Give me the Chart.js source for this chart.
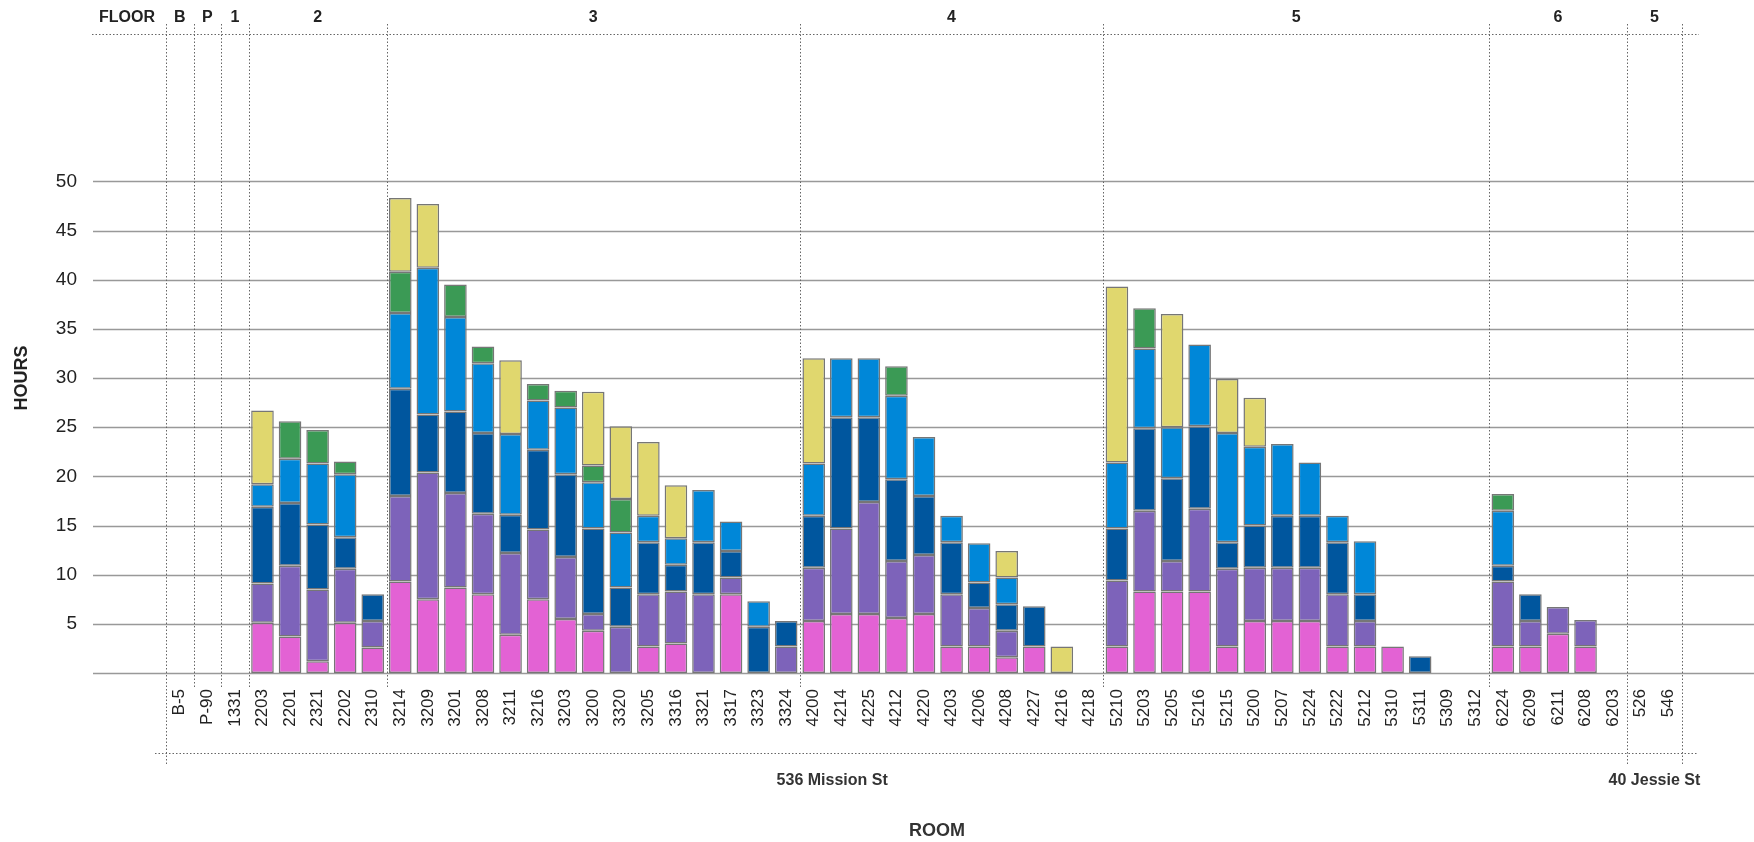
<!DOCTYPE html>
<html>
<head>
<meta charset="utf-8">
<title>Hours by room</title>
<script src="https://cdn.jsdelivr.net/npm/chart.js@4/dist/chart.umd.min.js"></script>
<style>
  html, body { margin: 0; padding: 0; background: #fff; }
  canvas { display: block; }
</style>
</head>
<body>
<canvas id="chart" width="1754" height="842"></canvas>
<script>
'use strict';

// rooms along the x axis, with the floor and building each one belongs to
const rooms = ['B-5', 'P-90', '1331',
  '2203', '2201', '2321', '2202', '2310',
  '3214', '3209', '3201', '3208', '3211', '3216', '3203', '3200', '3320', '3205', '3316', '3321', '3317', '3323', '3324',
  '4200', '4214', '4225', '4212', '4220', '4203', '4206', '4208', '4227', '4216', '4218',
  '5210', '5203', '5205', '5216', '5215', '5200', '5207', '5224', '5222', '5212', '5310', '5311', '5309', '5312',
  '6224', '6209', '6211', '6208', '6203',
  '526', '546'];
const floors = ['B', 'P', '1',
  '2', '2', '2', '2', '2',
  '3', '3', '3', '3', '3', '3', '3', '3', '3', '3', '3', '3', '3', '3', '3',
  '4', '4', '4', '4', '4', '4', '4', '4', '4', '4', '4',
  '5', '5', '5', '5', '5', '5', '5', '5', '5', '5', '5', '5', '5', '5',
  '6', '6', '6', '6', '6',
  '5', '5'];
const buildings = rooms.map((r, i) => i < 53 ? '536 Mission St' : '40 Jessie St');

// hours per room, one array per stacked segment (bottom to top)
const _ = null;
const pinkHours = [_, _, _,
  5.1, 3.7, 1.2, 5.1, 2.6,
  9.3, 7.5, 8.7, 8.0, 3.9, 7.5, 5.5, 4.3, _, 2.7, 3.0, _, 8.0, _, _,
  5.3, 6.0, 6.0, 5.6, 6.0, 2.7, 2.7, 1.6, 2.7, _, _,
  2.7, 8.3, 8.3, 8.3, 2.7, 5.3, 5.3, 5.3, 2.7, 2.7, 2.7, _, _, _,
  2.7, 2.7, 4.0, 2.7, _,
  _, _];
const purpleHours = [_, _, _,
  4.0, 7.2, 7.3, 5.5, 2.7,
  8.7, 12.9, 9.6, 8.2, 8.3, 7.1, 6.3, 1.7, 4.7, 5.3, 5.3, 8.0, 1.7, _, 2.7,
  5.4, 8.7, 11.4, 5.8, 6.0, 5.3, 3.9, 2.7, _, _, _,
  6.7, 8.2, 3.1, 8.4, 7.9, 5.4, 5.4, 5.4, 5.3, 2.6, _, _, _, _,
  6.6, 2.6, 2.7, 2.7, _,
  _, _];
const navyHours = [_, _, _,
  7.8, 6.4, 6.6, 3.2, 2.7,
  10.9, 5.9, 8.3, 8.2, 3.9, 8.1, 8.4, 8.7, 4.0, 5.3, 2.7, 5.3, 2.7, 4.7, 2.6,
  5.3, 11.3, 8.6, 8.3, 6.0, 5.3, 2.6, 2.7, 4.1, _, _,
  5.3, 8.4, 8.4, 8.4, 2.7, 4.3, 5.3, 5.3, 5.3, 2.7, _, 1.7, _, _,
  1.6, 2.7, _, _, _,
  _, _];
const blueHours = [_, _, _,
  2.3, 4.5, 6.2, 6.4, _,
  7.7, 14.9, 9.6, 7.1, 8.2, 5.0, 6.8, 4.7, 5.6, 2.7, 2.7, 5.3, 3.0, 2.6, _,
  5.3, 6.0, 6.0, 8.5, 6.0, 2.7, 4.0, 2.7, _, _, _,
  6.7, 8.1, 5.2, 8.3, 11.1, 8.0, 7.3, 5.4, 2.7, 5.4, _, _, _, _,
  5.6, _, _, _, _,
  _, _];
const greenHours = [_, _, _,
  _, 3.8, 3.4, 1.3, _,
  4.2, _, 3.3, 1.7, _, 1.7, 1.7, 1.7, 3.4, _, _, _, _, _, _,
  _, _, _, 3.0, _, _, _, _, _, _, _,
  _, 4.1, _, _, _, _, _, _, _, _, _, _, _, _,
  1.7, _, _, _, _,
  _, _];
const yellowHours = [_, _, _,
  7.5, _, _, _, _,
  7.5, 6.5, _, _, 7.5, _, _, 7.5, 7.4, 7.5, 5.4, _, _, _, _,
  10.7, _, _, _, _, _, _, 2.7, _, 2.7, _,
  17.9, _, 11.5, _, 5.5, 5.0, _, _, _, _, _, _, _, _,
  _, _, _, _, _,
  _, _];

const yTicks = [5, 10, 15, 20, 25, 30, 35, 40, 45, 50];

const FONT = '"Liberation Sans", Arial, Helvetica, sans-serif';

const series = [
  { label: 'Pink', data: pinkHours, color: '#e362d4' },
  { label: 'Purple', data: purpleHours, color: '#7d63ba' },
  { label: 'Navy', data: navyHours, color: '#00569e' },
  { label: 'Blue', data: blueHours, color: '#0087d8' },
  { label: 'Green', data: greenHours, color: '#3b9a55' },
  { label: 'Yellow', data: yellowHours, color: '#e0d76e' }
];

/**
 * Splits a list into runs of equal consecutive values.
 * @param list {string[]}
 * @return {{label: string, start: number, end: number}[]}
 */
function runsOf(list) {
  const out = [];
  list.forEach((v, i) => {
    const last = out[out.length - 1];
    if (last && last.label === v) {
      last.end = i;
    } else {
      out.push({ label: v, start: i, end: i });
    }
  });
  return out;
}

// pixel of the boundary in front of category i (i == rooms.length gives the right end)
function edgeAt(x, i) {
  const n = rooms.length;
  const step = x.getPixelForValue(1) - x.getPixelForValue(0);
  if (i <= 0) return x.getPixelForValue(0) - step / 2;
  if (i >= n) return x.getPixelForValue(n - 1) + step / 2;
  return (x.getPixelForValue(i - 1) + x.getPixelForValue(i)) / 2;
}

function line(ctx, x1, y1, x2, y2) {
  ctx.beginPath();
  ctx.moveTo(x1, y1);
  ctx.lineTo(x2, y2);
  ctx.stroke();
}

const floorPlan = {
  id: 'floorPlan',
  beforeDatasetsDraw(chart) {
    const { ctx, scales: { x, y } } = chart;
    const n = rooms.length;
    ctx.save();

    // horizontal grid, running past the plot on both sides
    ctx.strokeStyle = '#999';
    ctx.lineWidth = 1.5;
    [0, ...yTicks].forEach(v => {
      const py = Math.round(y.getPixelForValue(v)) + 0.5;
      line(ctx, 93, py, chart.width, py);
    });

    // dotted floor and building separators
    const floorRuns = runsOf(floors);
    const buildingRuns = runsOf(buildings);
    const buildingEdges = new Set(buildingRuns.map(r => r.start).concat([n]));
    const floorEdges = floorRuns.map(r => r.start).concat([n]);
    const right = edgeAt(x, n);

    ctx.setLineDash([1.5, 2]);
    ctx.strokeStyle = '#666';
    ctx.lineWidth = 1;
    floorEdges.forEach(i => {
      const px = Math.round(edgeAt(x, i)) + 0.5;
      line(ctx, px, 24, px, buildingEdges.has(i) ? 766 : 689);
    });
    line(ctx, 92, 34.5, right + 17, 34.5);
    line(ctx, 155, 753.5, right + 15, 753.5);
    ctx.setLineDash([]);

    // floor header
    ctx.fillStyle = '#222';
    ctx.textAlign = 'center';
    ctx.textBaseline = 'middle';
    ctx.font = 'bold 16px ' + FONT;
    ctx.fillText('FLOOR', 127, 18);
    floorRuns.forEach(r => {
      const cx = (edgeAt(x, r.start) + edgeAt(x, r.end + 1)) / 2;
      ctx.fillText(r.label, cx, 18);
    });

    // building names under the room labels; the long one sits left of centre
    ctx.fillStyle = '#333';
    buildingRuns.forEach(r => {
      const cx = r.start === 0
        ? edgeAt(x, 0) + (edgeAt(x, r.end + 1) - edgeAt(x, 0)) * 0.456
        : (edgeAt(x, r.start) + edgeAt(x, r.end + 1)) / 2;
      ctx.fillText(r.label, cx, 781);
    });

    // axis name, a little right of the plot centre as in the original
    ctx.font = 'bold 18px ' + FONT;
    ctx.fillText('ROOM', 937, 831);

    ctx.restore();
  }
};

const chart = new Chart(document.getElementById('chart'), {
  type: 'bar',
  data: {
    labels: rooms,
    datasets: series.map(s => ({
      label: s.label,
      data: s.data,
      backgroundColor: s.color,
      borderColor: '#767676',
      borderWidth: 1.5,
      borderSkipped: false,
      barPercentage: 0.82,
      categoryPercentage: 1
    }))
  },
  options: {
    responsive: false,
    animation: false,
    layout: { padding: { top: 83, right: 72, bottom: 0, left: 0 } },
    plugins: {
      legend: { display: false },
      tooltip: { enabled: false }
    },
    scales: {
      x: {
        stacked: true,
        grid: { display: false, drawTicks: false },
        border: { display: false },
        ticks: {
          autoSkip: false,
          minRotation: 90,
          maxRotation: 90,
          padding: 16,
          color: '#222',
          font: { family: FONT, size: 17 }
        },
        afterFit: s => { s.height = 169; }
      },
      y: {
        stacked: true,
        min: 0,
        max: 60,
        // tick marks are hidden, their length only pushes the labels left
        grid: { display: false, drawTicks: true, tickLength: 86 },
        border: { display: false },
        ticks: {
          stepSize: 5,
          padding: 3,
          color: '#222',
          font: { family: FONT, size: 19 },
          callback: v => (yTicks.includes(v) ? v : '')
        },
        title: {
          display: true,
          text: 'HOURS',
          color: '#222',
          padding: { top: 11, bottom: 0 },
          font: { family: FONT, size: 18, weight: 'bold' }
        },
        afterFit: s => { s.width = 166; }
      }
    }
  },
  plugins: [floorPlan]
});
</script>
</body>
</html>
